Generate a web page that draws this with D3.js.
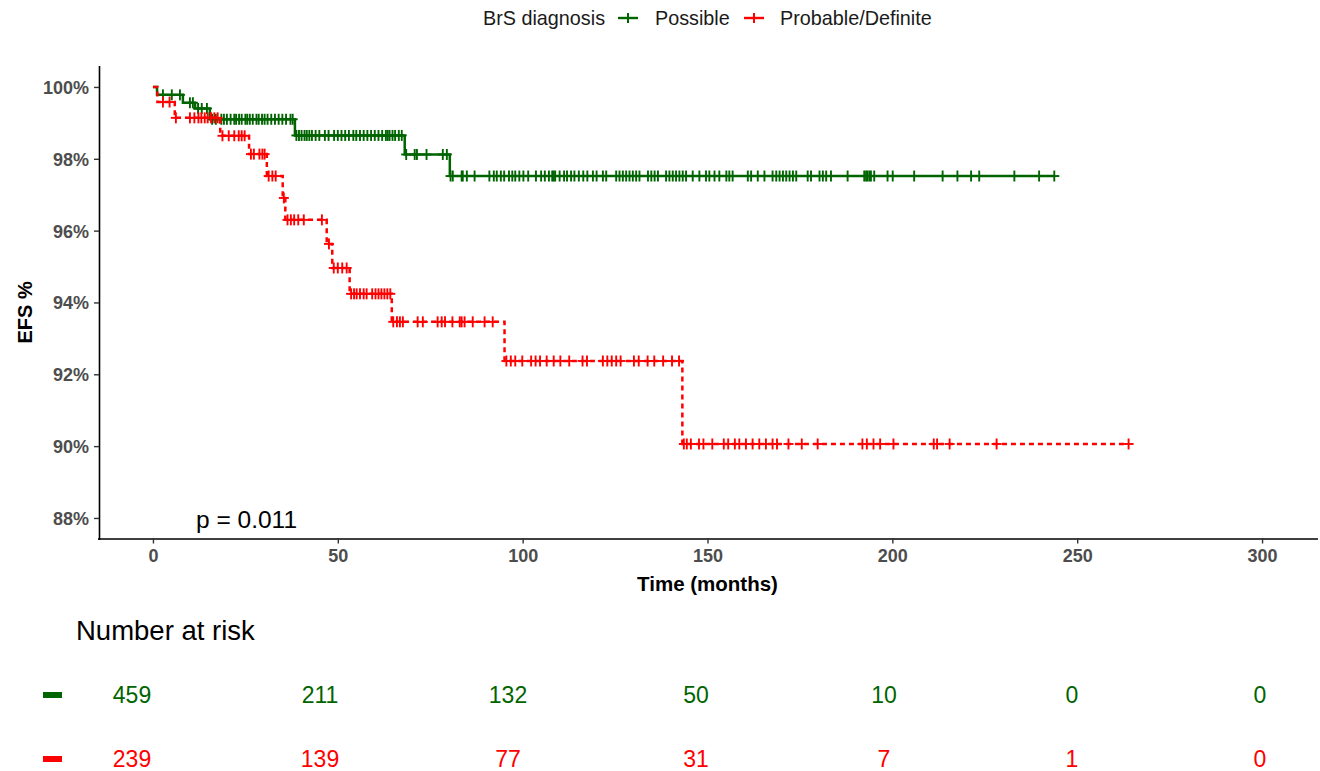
<!DOCTYPE html>
<html>
<head>
<meta charset="utf-8">
<script src="https://cdn.jsdelivr.net/npm/d3@7"></script>
<style>
  body { margin: 0; background: #fff; }
  svg text { font-family: "Liberation Sans", Arial, sans-serif; }
</style>
</head>
<body>
<svg id="km"></svg>
<script>
const size = { width: 1320, height: 771 };
const GREEN = "#006400";
const RED = "#ff0000";

// group labels
const groups = ["Possible", "Probable/Definite"];

// KM steps (months, survival %)
const possibleStepTimes = [1.1, 8.1, 11.4, 15.4, 38.4, 68.1, 80.3];
const possibleStepSurv = [99.78, 99.56, 99.4, 99.1, 98.65, 98.12, 97.52];
const possibleCensor = [
  2.7, 5.1, 7.3, 10, 10.8, 12.2, 13.2, 14.6, 16, 17, 18.5, 19.2, 20, 21, 22, 22.5,
  23.3, 24, 25, 25.5, 26.2, 27, 28, 28.6, 29.5, 30.2, 31, 32, 33, 34, 35, 36, 37.2,
  37.8, 38.8, 39.5, 40.2, 41, 41.6, 42.3, 43, 44, 45, 46.5, 47.5, 49, 50, 51, 52,
  53, 54.2, 55, 56, 57, 58, 59, 60, 61, 62, 63, 63.5, 64, 64.8, 65.5, 66.5, 67.3,
  68.5, 70.8, 71.4, 74, 78.4, 79.5, 80.5, 81.1, 83.5, 83.8, 84.9, 87, 91, 92.2, 93,
  94.1, 95, 96.3, 97.2, 98, 99.1, 100.2, 101.5, 103.6, 105, 106, 107.1, 108, 108.4,
  108.8, 110, 111.2, 112, 113.1, 114, 115.2, 116.4, 117.5, 119, 120, 121.7, 122.6,
  125.3, 126.2, 127.1, 128, 128.9, 129.8, 130.7, 131.6, 133.9, 134.8, 135.7, 136.6,
  138.8, 139.7, 140.6, 141.5, 142.4, 143.3, 144.2, 146, 147.8, 149.6, 150.5, 151.9,
  153.2, 155.1, 155.9, 156.8, 160.9, 161.8, 163.6, 165.4, 167.6, 168.6, 169.5, 170.4,
  171.3, 172.2, 173.1, 174, 177.1, 178, 180.3, 181.2, 182.1, 183.4, 187.9, 192.4,
  192.9, 193.3, 193.8, 194.2, 195.1, 198.7, 200.1, 205.9, 213.6, 217.6, 221.3, 223.5,
  233, 239.7, 243.8
];

const probableStepTimes = [1.2, 5.9, 18.2, 26, 30.8, 35.1, 35.8, 47, 48.5, 53.2, 64.6, 95.1, 143.2];
const probableStepSurv = [99.58, 99.14, 98.64, 98.13, 97.52, 96.91, 96.3, 95.63, 94.96, 94.24, 93.46, 92.37, 90.06];
const probableCensor = [
  2.7, 4.5, 6.2, 10, 11.2, 12.3, 13.1, 14, 14.8, 15.7, 16.6, 17.5, 18.8, 20.5, 22,
  23.2, 24, 24.8, 26.5, 27.3, 28.8, 29.6, 30.2, 31.3, 32.3, 33.2, 35.4, 36.4, 37.3,
  38.2, 39.3, 40.8, 45.7, 47.6, 48.9, 50, 51.2, 52.4, 53.6, 54.4, 55.1, 56, 57, 57.8,
  59.3, 60.2, 61, 61.8, 62.6, 63.4, 64.2, 65, 66, 66.8, 67.6, 71.6, 73, 77, 78.1, 79,
  81, 83, 83.5, 84.3, 86.5, 89.7, 91.9, 95.6, 96.8, 98, 99.9, 102.3, 103.5, 104.7,
  106.5, 108.4, 110.2, 112.6, 116.2, 117.4, 121.7, 122.9, 124.1, 125.3, 126.5, 130.1,
  131.4, 133.8, 135.6, 138, 140.4, 142.3, 143.6, 144.4, 145.5, 147.7, 148.9, 151.3,
  154.4, 155.6, 157.4, 158.6, 160.4, 162.2, 164, 165.8, 167.6, 168.8, 171.9, 175.5,
  179.8, 191.9, 193.1, 194.9, 196.7, 200.3, 211.2, 212.1, 215.5, 228.2, 263.9
];

// axis ticks
const xTicks = [0, 50, 100, 150, 200, 250, 300];
const yTicks = [88, 90, 92, 94, 96, 98, 100];

// number at risk
const riskTimes = [0, 50, 100, 150, 200, 250, 300];
const possibleRisk = [459, 211, 132, 50, 10, 0, 0];
const probableRisk = [239, 139, 77, 31, 7, 1, 0];

const pValue = "p = 0.011";

const series = [
  { name: groups[0], times: possibleStepTimes, surv: possibleStepSurv, censor: possibleCensor, risk: possibleRisk, color: GREEN, dash: null },
  { name: groups[1], times: probableStepTimes, surv: probableStepSurv, censor: probableCensor, risk: probableRisk, color: RED, dash: "5,4" }
];

const svg = d3.select("#km").attr("width", size.width).attr("height", size.height);

const x = d3.scaleLinear().domain([-15, 315]).range([97.5, 1317.5]);
const y = d3.scaleLinear().domain([87.4, 100.6]).range([539.5, 65.4]);
const xRisk = d3.scaleLinear().domain([0, 300]).range([132, 1260]);

const survAt = (s, t) => {
  const i = d3.bisectRight(s.times, t);
  return i === 0 ? 100 : s.surv[i - 1];
};

const line = d3
  .line()
  .curve(d3.curveStepAfter)
  .x((d) => x(d[0]))
  .y((d) => y(d[1]));

series.forEach((s) => {
  const tEnd = d3.max(s.censor);
  const pts = [[0, 100]];
  s.times.forEach((t, i) => pts.push([t, s.surv[i]]));
  pts.push([tEnd, s.surv[s.surv.length - 1]]);

  svg
    .append("path")
    .datum(pts)
    .attr("fill", "none")
    .attr("stroke", s.color)
    .attr("stroke-width", 2.5)
    .attr("stroke-dasharray", s.dash)
    .attr("d", line);

  const g = svg.append("g").attr("stroke", s.color).attr("stroke-width", 1.9);
  s.censor.forEach((t) => {
    const cx = x(t);
    const cy = y(survAt(s, t));
    g.append("line").attr("x1", cx - 5).attr("x2", cx + 5).attr("y1", cy).attr("y2", cy);
    g.append("line").attr("x1", cx).attr("x2", cx).attr("y1", cy - 5.5).attr("y2", cy + 5.5);
  });
});

// axes
const xAxis = svg
  .append("g")
  .attr("transform", `translate(0, ${y.range()[0] - 1})`)
  .call(d3.axisBottom(x).tickValues(xTicks).tickSize(5).tickPadding(6).tickSizeOuter(0));
const yAxis = svg
  .append("g")
  .attr("transform", `translate(${x.range()[0] + 1.5}, 0)`)
  .call(d3.axisLeft(y).tickValues(yTicks).tickFormat((d) => d + "%").tickSize(5).tickPadding(5).tickSizeOuter(0));

[xAxis, yAxis].forEach((a) => {
  a.select(".domain").attr("stroke", "#000").attr("stroke-width", 1.6);
  a.selectAll(".tick line").attr("stroke", "#333").attr("stroke-width", 1.4);
  a.selectAll(".tick text")
    .attr("fill", "#4d4d4d")
    .style("font-size", "18px")
    .style("font-weight", "bold")
    .style("font-family", "'Liberation Sans', Arial, sans-serif");
});
yAxis.selectAll(".tick text").attr("dy", "0.36em");

svg
  .append("text")
  .attr("x", (x(0) + x(300)) / 2)
  .attr("y", 591)
  .attr("text-anchor", "middle")
  .style("font-size", "20.5px")
  .style("font-weight", "bold")
  .text("Time (months)");

svg
  .append("text")
  .attr("transform", `translate(32, ${(y.range()[0] + y.range()[1]) / 2 + 10}) rotate(-90)`)
  .attr("text-anchor", "middle")
  .style("font-size", "20px")
  .style("font-weight", "bold")
  .text("EFS %");

svg
  .append("text")
  .attr("x", 196)
  .attr("y", 528)
  .style("font-size", "24.5px")
  .text(pValue);

// legend
const legend = svg.append("g").attr("transform", "translate(0, 18)");
legend
  .append("text")
  .attr("x", 483)
  .attr("y", 7)
  .style("font-size", "19.8px")
  .attr("fill", "#1a1a1a")
  .text("BrS diagnosis");
const keyX = [628, 754];
const labelX = [655, 780];
series.forEach((s, i) => {
  const k = legend.append("g").attr("stroke", s.color).attr("stroke-width", 2.4);
  k.append("line").attr("x1", keyX[i] - 10).attr("x2", keyX[i] + 10).attr("y1", 0).attr("y2", 0);
  k.append("line").attr("x1", keyX[i]).attr("x2", keyX[i]).attr("y1", -5).attr("y2", 5).attr("stroke-width", 2);
  legend
    .append("text")
    .attr("x", labelX[i])
    .attr("y", 7)
    .style("font-size", "19.8px")
    .attr("fill", "#1a1a1a")
    .text(s.name);
});

// number at risk table
svg
  .append("text")
  .attr("x", 76)
  .attr("y", 640)
  .style("font-size", "27.5px")
  .text("Number at risk");

const rowY = [695, 759];
series.forEach((s, i) => {
  svg
    .append("rect")
    .attr("x", 43)
    .attr("y", rowY[i] - 3)
    .attr("width", 19)
    .attr("height", 6)
    .attr("fill", s.color);
  svg
    .append("g")
    .selectAll("text")
    .data(s.risk)
    .join("text")
    .attr("x", (d, j) => xRisk(riskTimes[j]))
    .attr("y", rowY[i] + 8)
    .attr("text-anchor", "middle")
    .attr("fill", s.color)
    .style("font-size", "23px")
    .text((d) => d);
});
</script>
</body>
</html>
